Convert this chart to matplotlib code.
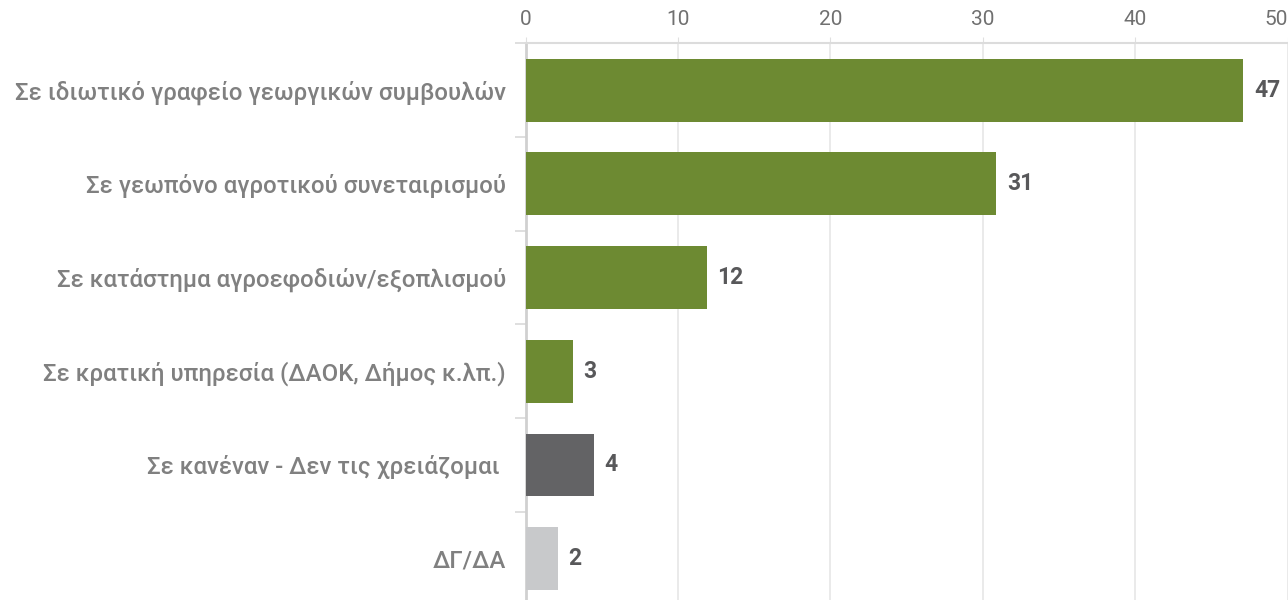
import numpy as np
import matplotlib
matplotlib.use('Agg')
import matplotlib.pyplot as plt

plt.rcParams['font.family'] = ['Roboto', 'DejaVu Sans']

# данные
categories = ['Σε ιδιωτικό γραφείο γεωργικών συμβουλών',
              'Σε γεωπόνο αγροτικού συνεταιρισμού',
              'Σε κατάστημα αγροεφοδιών/εξοπλισμού',
              'Σε κρατική υπηρεσία (ΔΑΟΚ, Δήμος κ.λπ.)',
              'Σε κανέναν - Δεν τις χρειάζομαι ',
              'ΔΓ/ΔΑ']
values = [47.1, 30.9, 11.9, 3.1, 4.5, 2.1]
value_labels = ['47', '31', '12', '3', '4', '2']
bar_colors = ['#6d8a32', '#6d8a32', '#6d8a32', '#6d8a32', '#636365', '#c8c9cb']
xticks = [0, 10, 20, 30, 40, 50]

fig = plt.figure(figsize=(12.88, 6), dpi=100)
ax = fig.add_axes([525.5 / 1288, 1 - 605.5 / 600, 762 / 1288, 562.2 / 600])

y = np.arange(len(categories))
ax.barh(y, values, height=0.67, color=bar_colors, zorder=3)

for yi, v, lab in zip(y, values, value_labels):
    ax.text(v + 0.7, yi, lab, va='center', ha='left', fontsize=16.5,
            fontweight='bold', color='#58585a')

ax.set_xlim(0, 50)
ax.set_ylim(len(categories) - 0.5, -0.5)
ax.xaxis.tick_top()
ax.set_xticks(xticks)
ax.set_xticklabels([str(t) for t in xticks], fontsize=15, color='#707070')
ax.get_xticklabels()[-1].set_ha('right')
ax.tick_params(axis='x', length=4, color='#e0e0e0', pad=6)
ax.grid(axis='x', color='#e6e6e6', linewidth=1.2, zorder=0)

ax.set_yticks(y)
ax.set_yticklabels(categories, fontsize=17.3, color='#808080', fontweight='medium')
ax.tick_params(axis='y', length=0, pad=14)
ax.set_yticks(np.arange(-0.5, len(categories), 1), minor=True)
ax.tick_params(axis='y', which='minor', length=8, color='#d9d9d9', width=1.2)

for s in ['right', 'bottom']:
    ax.spines[s].set_visible(False)
ax.spines['top'].set_color('#dcdcdc')
ax.spines['top'].set_linewidth(1.5)
ax.spines['left'].set_color('#d0d0d0')
ax.spines['left'].set_linewidth(2)

fig.savefig('out.png', dpi=100)
